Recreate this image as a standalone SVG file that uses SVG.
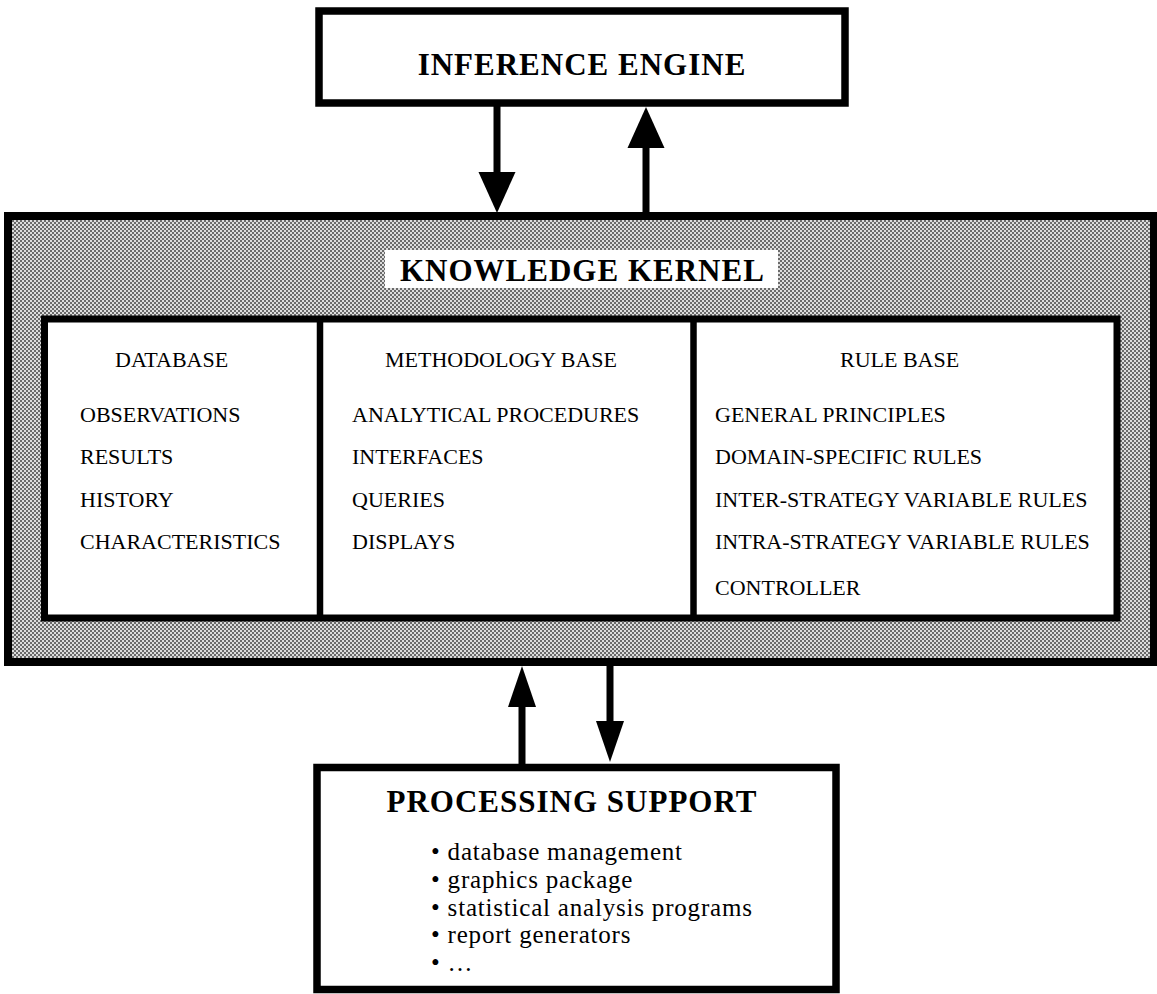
<svg xmlns="http://www.w3.org/2000/svg" width="1157" height="994" viewBox="0 0 1157 994">
  <defs>
    <!-- halftone screen used for the kernel frame -->
    <pattern id="halftone" width="4" height="4" patternUnits="userSpaceOnUse">
      <rect width="4" height="4" fill="#dcdcdc"/>
      <rect x="0" y="0" width="2" height="2" fill="#6a6a6a"/>
      <rect x="2" y="2" width="2" height="2" fill="#6a6a6a"/>
    </pattern>
    <marker id="headLarge" markerUnits="userSpaceOnUse" markerWidth="41" markerHeight="37" refX="0" refY="18.5" orient="auto" overflow="visible">
      <path d="M0,0 L41,18.5 L0,37 z" fill="#000"/>
    </marker>
    <marker id="headSmall" markerUnits="userSpaceOnUse" markerWidth="41" markerHeight="28" refX="0" refY="14" orient="auto" overflow="visible">
      <path d="M0,0 L41,14 L0,28 z" fill="#000"/>
    </marker>
  </defs>
  <style>
    .box { fill: #fff; stroke: #000; stroke-width: 7.5; }
    .title { font-family: "Liberation Serif", "Times New Roman", serif; font-weight: bold; font-size: 31px; letter-spacing: 1px; fill: #000; }
    .head { font-family: "Liberation Serif", "Times New Roman", serif; font-size: 22px; fill: #000; }
    .item { font-family: "Liberation Serif", "Times New Roman", serif; font-size: 22px; fill: #000; }
    .bullet { font-family: "Liberation Serif", "Times New Roman", serif; font-size: 25px; letter-spacing: 0.8px; fill: #000; }
    .link { stroke: #000; stroke-width: 7; fill: none; }
  </style>
  <rect width="1157" height="994" fill="#fff"/>

  <!-- top component -->
  <g id="inference-engine">
    <rect class="box" x="319" y="11" width="526" height="92"/>
    <text class="title" x="582" y="75" text-anchor="middle">INFERENCE ENGINE</text>
  </g>

  <!-- central kernel with its three stores -->
  <g id="knowledge-kernel">
    <rect x="8" y="216" width="1146" height="446" fill="url(#halftone)" stroke="#000" stroke-width="8"/>
    <rect x="385" y="250" width="393" height="38" fill="#fff"/>
    <text class="title" x="400" y="281">KNOWLEDGE KERNEL</text>
    <rect x="44.5" y="319" width="1072.5" height="299" fill="#fff" stroke="#000" stroke-width="7"/>
    <line x1="320" y1="319" x2="320" y2="618" stroke="#000" stroke-width="6.5"/>
    <line x1="693.5" y1="319" x2="693.5" y2="618" stroke="#000" stroke-width="6.5"/>
  </g>

  <g id="database">
    <text class="head" x="115" y="367">DATABASE</text>
    <text class="item" x="80" y="422">OBSERVATIONS</text>
    <text class="item" x="80" y="464">RESULTS</text>
    <text class="item" x="80" y="507">HISTORY</text>
    <text class="item" x="80" y="549">CHARACTERISTICS</text>
  </g>

  <g id="methodology-base">
    <text class="head" x="385" y="367">METHODOLOGY BASE</text>
    <text class="item" x="352" y="422">ANALYTICAL PROCEDURES</text>
    <text class="item" x="352" y="464">INTERFACES</text>
    <text class="item" x="352" y="507">QUERIES</text>
    <text class="item" x="352" y="549">DISPLAYS</text>
  </g>

  <g id="rule-base">
    <text class="head" x="840" y="367">RULE BASE</text>
    <text class="item" x="715" y="422">GENERAL PRINCIPLES</text>
    <text class="item" x="715" y="464">DOMAIN-SPECIFIC RULES</text>
    <text class="item" x="715" y="507">INTER-STRATEGY VARIABLE RULES</text>
    <text class="item" x="715" y="549">INTRA-STRATEGY VARIABLE RULES</text>
    <text class="item" x="715" y="595">CONTROLLER</text>
  </g>

  <!-- bottom component -->
  <g id="processing-support">
    <rect class="box" x="317" y="767.5" width="519" height="222" stroke-width="8"/>
    <text class="title" x="572" y="812" text-anchor="middle" letter-spacing="0.8">PROCESSING SUPPORT</text>
    <text class="bullet" x="431" y="860">• database management</text>
    <text class="bullet" x="431" y="888">• graphics package</text>
    <text class="bullet" x="431" y="916">• statistical analysis programs</text>
    <text class="bullet" x="431" y="943">• report generators</text>
    <text class="bullet" x="431" y="971">• …</text>
  </g>

  <!-- two-way links between the components -->
  <g id="connectors">
    <line class="link" x1="497" y1="106" x2="497" y2="172" marker-end="url(#headLarge)"/>
    <line class="link" x1="646" y1="213" x2="646" y2="148" marker-end="url(#headLarge)"/>
    <line class="link" x1="522" y1="764" x2="522" y2="707" marker-end="url(#headSmall)"/>
    <line class="link" x1="610" y1="665" x2="610" y2="721" marker-end="url(#headSmall)"/>
  </g>
</svg>
